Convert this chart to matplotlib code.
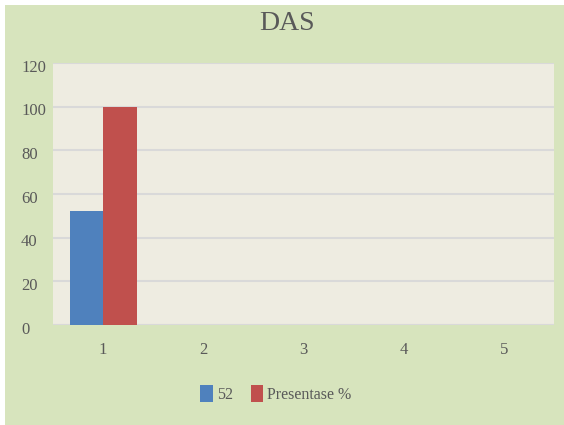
import matplotlib.pyplot as plt
import matplotlib.transforms as mtransforms
from matplotlib.patches import Rectangle

categories = ["1", "2", "3", "4", "5"]
series_52 = [52, 0, 0, 0, 0]
series_pct = [100, 0, 0, 0, 0]
yticks = [0, 20, 40, 60, 80, 100, 120]

plt.rcParams['font.family'] = ['Liberation Serif', 'DejaVu Serif']

W, H = 564, 425
fig = plt.figure(figsize=(W / 100, H / 100), dpi=100, facecolor="white")
fig.patches.append(Rectangle((5 / W, -0.02), 1.1, 1.02 - 5 / H, transform=fig.transFigure,
                             facecolor="#D7E4BD", edgecolor="none", zorder=-1))

ax = fig.add_axes([53 / W, (H - 325) / H, (554 - 53) / W, (325 - 63) / H])
ax.set_facecolor("#EEECE1")

x = list(range(len(categories)))
w = 0.335
ax.bar([i - w / 2 for i in x], series_52, w, color="#4F81BD", label="52", zorder=3)
ax.bar([i + w / 2 for i in x], series_pct, w, color="#C0504D", label="Presentase %", zorder=3)

ax.set_xlim(-0.5, 4.5)
ax.set_ylim(0, 120)
ax.set_yticks(yticks)
ax.set_xticks(x)
ax.set_xticklabels(categories)
ax.yaxis.grid(True, color="#D9D9D9", linewidth=1.5, zorder=0)
ax.tick_params(length=0, labelsize=12, colors="#595959")
ax.tick_params(axis="x", pad=12)
ax.tick_params(axis="y", pad=23)
for s in ax.spines.values():
    s.set_visible(False)
ax.axhline(0, color="#D9D9D9", linewidth=1.5, zorder=2)

# y labels are left aligned and sit a little below their gridlines
offset = mtransforms.ScaledTranslation(0, -2 / 72, fig.dpi_scale_trans)
for lab in ax.get_yticklabels():
    lab.set_ha("left")
    lab.set_transform(lab.get_transform() + offset)

fig.text(287 / W, 1 - 24 / H, "DAS", ha="center", va="center", fontsize=20,
         color="#595959")
fig.legend(loc="center", bbox_to_anchor=(276 / W, 1 - 394 / H), ncol=2, frameon=False,
           fontsize=11.5, handlelength=0.8, handleheight=1.2, handletextpad=0.25,
           columnspacing=1.1, labelcolor="#595959")

fig.savefig("out.png", dpi=100, facecolor=fig.get_facecolor())
